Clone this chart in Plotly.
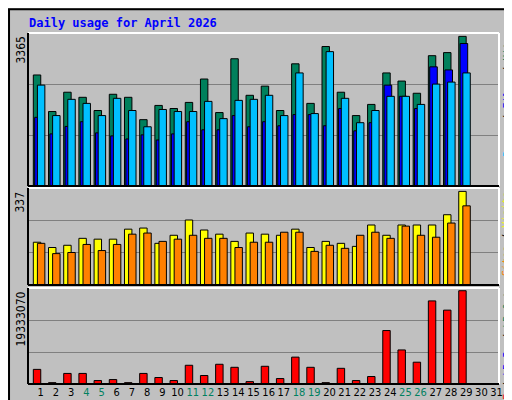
import plotly.graph_objects as go

days = list(range(1, 32))
hits = [2497, 1675, 2109, 1995, 1698, 2063, 1995, 1492, 1812, 1743, 1880, 2406, 1652, 2862, 2040,
        2246, 1698, 2748, 1858, 3137, 2109, 1584, 1835, 2543, 2360, 2086, 2931, 3000, 3365]
files = [2269, 1584, 1949, 1858, 1584, 1972, 1698, 1332, 1721, 1675, 1675, 1903, 1515, 1926, 1949,
         2040, 1584, 2543, 1629, 3022, 1972, 1424, 1698, 2017, 2017, 1835, 2292, 2337, 2543]
pages = [1545, 1172, 1340, 1446, 1195, 1127, 1058, 1150, 1035, 1172, 1446, 1264, 1264, 1584, 1332,
         1446, 1355, 1606, 1606, 1355, 1743, 1241, 1424, 2269, 2017, 1743, 2680, 2611, 3205]
visits = [154, 135, 143, 168, 165, 165, 201, 205, 150, 179, 234, 198, 183, 157, 187,
          183, 179, 201, 135, 157, 150, 139, 216, 179, 216, 216, 216, 253, 337]
sites = [150, 113, 117, 146, 124, 146, 183, 187, 157, 165, 179, 168, 168, 135, 154,
         154, 190, 190, 121, 143, 132, 179, 190, 168, 212, 179, 172, 223, 285]
kbytes = [3030000, 280000, 2190000, 2190000, 710000, 920000, 280000, 2190000, 1340000, 710000,
          3880000, 1760000, 4090000, 3460000, 490000, 3670000, 1130000, 5570000, 3460000, 280000,
          3250000, 710000, 1550000, 11080000, 7060000, 4520000, 17220000, 15310000, 19333070]
weekend = [4, 5, 11, 12, 18, 19, 25, 26]

GRAY = "#c0c0c0"
line = dict(color="black", width=1)
n = len(hits)
d = days[:n]

fig = go.Figure()
fig.add_bar(x=d, y=hits, width=0.49, offset=-0.49, marker=dict(color="#00805c", line=line), xaxis="x", yaxis="y")
fig.add_bar(x=d, y=pages, width=0.5, offset=-0.4, marker=dict(color="#0000ff", line=line), xaxis="x", yaxis="y")
fig.add_bar(x=d, y=files, width=0.49, offset=-0.22, marker=dict(color="#00c0ff", line=line), xaxis="x", yaxis="y")
fig.add_bar(x=d, y=visits, width=0.49, offset=-0.49, marker=dict(color="#ffff00", line=line), xaxis="x2", yaxis="y2")
fig.add_bar(x=d, y=sites, width=0.49, offset=-0.22, marker=dict(color="#ff8000", line=line), xaxis="x2", yaxis="y2")
fig.add_bar(x=d, y=kbytes, width=0.49, offset=-0.49, marker=dict(color="#ff0000", line=line), xaxis="x3", yaxis="y3")

xr = [0.16, 31.16]
xdom = [20 / 512, 491 / 512]
ydoms = [[1 - 178 / 400, 1 - 25 / 400], [1 - 277 / 400, 1 - 180 / 400], [1 - 376 / 400, 1 - 280 / 400]]
maxes = [max(hits), max(visits), max(kbytes)]
ranges = [maxes[0] * 452 / 442, maxes[1] * 286 / 276, maxes[2] * 282 / 274]

ticktext = []
for dd in days:
    c = "#008060" if dd in weekend else "black"
    ticktext.append("<span style='color:%s'>%d</span>" % (c, dd))

layout = dict(
    width=512, height=400, showlegend=False, barmode="overlay",
    paper_bgcolor=GRAY, plot_bgcolor=GRAY,
    margin=dict(l=0, r=0, t=0, b=0),
    font=dict(family="DejaVu Sans Mono", size=11, color="black"),
)
for i in range(3):
    s = "" if i == 0 else str(i + 1)
    layout["xaxis" + s] = dict(domain=xdom, range=xr, showgrid=False, zeroline=False,
                               anchor="y" + s, tickvals=days, ticktext=ticktext, tickangle=0,
                               showticklabels=(i == 2), ticks="", automargin=False,
                               tickfont=dict(size=11, family="DejaVu Sans Condensed"))
    R = ranges[i]
    layout["yaxis" + s] = dict(domain=ydoms[i], range=[0, R], tickvals=[R / 3, 2 * R / 3],
                               showticklabels=False, gridcolor="#808080", gridwidth=1,
                               zeroline=False, anchor="x" + s)
fig.update_layout(**layout)

shapes = [dict(type="rect", xref="paper", yref="paper", x0=0.002, x1=0.998, y0=0.003, y1=0.997,
               line=dict(color="black", width=2))]
for y0, y1 in ydoms:
    shapes.append(dict(type="line", xref="paper", yref="paper", x0=xdom[0], x1=xdom[1], y0=y1, y1=y1, line=dict(color="white", width=2)))
    shapes.append(dict(type="line", xref="paper", yref="paper", x0=xdom[1], x1=xdom[1], y0=y0, y1=y1, line=dict(color="white", width=2)))
    shapes.append(dict(type="line", xref="paper", yref="paper", x0=xdom[0], x1=xdom[1], y0=y0, y1=y0, line=dict(color="black", width=2)))
    shapes.append(dict(type="line", xref="paper", yref="paper", x0=xdom[0], x1=xdom[0], y0=y0, y1=y1, line=dict(color="black", width=2)))
fig.update_layout(shapes=shapes)

ann = [dict(text="<b>Daily usage for April 2026</b>", x=19 / 512, y=1 - 15 / 400, xref="paper", yref="paper",
            xanchor="left", yanchor="middle", showarrow=False, font=dict(color="#0000ff", size=12))]
for i, lbl in enumerate([str(maxes[0]), str(maxes[1]), str(maxes[2])]):
    ann.append(dict(text=lbl, x=12 / 512, y=ydoms[i][1] - 0.005, xref="paper", yref="paper", textangle=-90,
                    xanchor="center", yanchor="top", showarrow=False, font=dict(size=12, family="DejaVu Sans Condensed")))
right = [
    "<span style='color:#00c0ff'>Pages</span> / <span style='color:#0000ff'>Files</span> / <span style='color:#00805c'>Hits</span>",
    "<span style='color:#ff8000'>Sites</span> / <span style='color:#ffff00'>Visits</span>",
    "<span style='color:#ff0000'>kB F</span> / <span style='color:#0000ff'>kB In</span> / <span style='color:#00805c'>kB Out</span>",
]
for i, t in enumerate(right):
    ann.append(dict(text=t, x=499 / 512, y=ydoms[i][1] - 0.005, xref="paper", yref="paper", textangle=-90,
                    xanchor="center", yanchor="top", showarrow=False, font=dict(size=10)))
fig.update_layout(annotations=ann)

fig.write_html("out.html")
